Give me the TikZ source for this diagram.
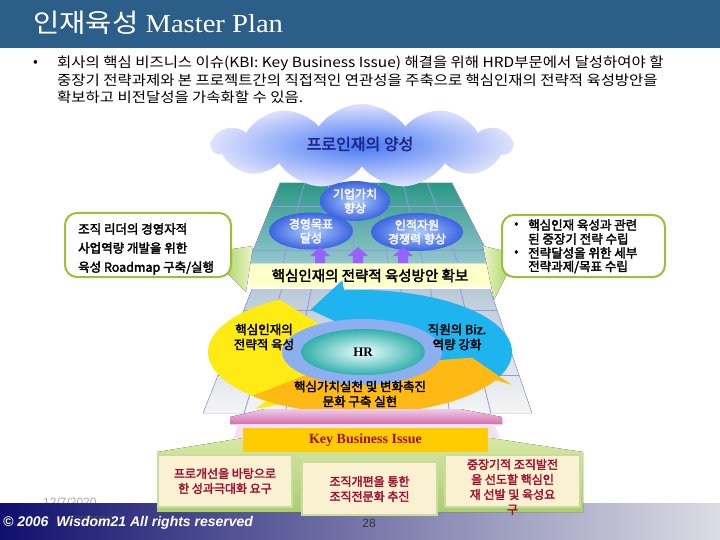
\documentclass[tikz,border=0pt]{standalone}
\usepackage{fontspec}
\setmainfont{Liberation Serif}
\setsansfont{Liberation Sans}
\newfontfamily\kr{Noto Sans CJK KR}
\newfontfamily\krb[FakeBold=2.5]{Noto Sans CJK KR}
\usetikzlibrary{shapes.symbols,shapes.geometric}
\definecolor{titleblue}{RGB}{44,94,138}
\definecolor{cloudblue}{RGB}{70,120,245}
\definecolor{cloudedge}{RGB}{222,226,252}
\definecolor{cloudtext}{RGB}{30,40,130}
\definecolor{tealtop}{RGB}{38,150,132}
\definecolor{tealbot}{RGB}{150,200,205}
\definecolor{gridc}{RGB}{150,150,225}
\definecolor{ballin}{RGB}{175,205,255}
\definecolor{ballout}{RGB}{60,100,225}
\definecolor{purparr}{RGB}{150,100,250}
\definecolor{barYellow}{RGB}{255,255,200}
\definecolor{callgreen}{RGB}{155,190,60}
\definecolor{ptrA}{RGB}{175,215,110}
\definecolor{ptrB}{RGB}{235,245,200}
\definecolor{plateTop}{RGB}{185,200,215}
\definecolor{plateBot}{RGB}{245,245,245}
\definecolor{ringYellow}{RGB}{255,235,20}
\definecolor{ringCyan}{RGB}{30,180,240}
\definecolor{ringOrange}{RGB}{255,185,20}
\definecolor{hrring}{RGB}{140,175,240}
\definecolor{hrin}{RGB}{235,255,255}
\definecolor{hrout}{RGB}{50,175,170}
\definecolor{pinkTop}{RGB}{235,205,235}
\definecolor{pinkBot}{RGB}{215,110,170}
\definecolor{keyGold}{RGB}{255,204,0}
\definecolor{greenTop}{RGB}{215,232,165}
\definecolor{greenBot}{RGB}{170,205,110}
\definecolor{boxfill}{RGB}{250,240,210}
\definecolor{boxline}{RGB}{200,220,160}
\definecolor{darkred}{RGB}{160,16,48}
\definecolor{footL}{RGB}{16,16,110}
\definecolor{footR}{RGB}{220,220,228}
\newcommand{\ringarr}[4]{\fill[#1] (#2:152 and 62) arc[start angle=#2, end angle=#3, x radius=152, y radius=62] -- (#3:170 and 72) -- (#4:113 and 47) -- (#3:58 and 22) -- (#3:75 and 32) arc[start angle=#3, end angle=#2, x radius=75, y radius=32] -- cycle;}
\begin{document}
\begin{tikzpicture}[x=1pt,y=-1pt,every node/.style={inner sep=0pt},
  body/.style={font=\kr\fontsize{14}{16}\selectfont, anchor=west},
  ball/.style={ellipse, inner color=ballin, outer color=ballout, text=white, font=\krb\fontsize{12}{14}\selectfont, align=center},
  callbox/.style={draw=callgreen, line width=2, rounded corners=12, fill=white},
  calltext/.style={font=\krb\fontsize{12.5}{19}\selectfont, anchor=west, align=left},
  rtext/.style={font=\krb\fontsize{12.5}{14}\selectfont, anchor=west},
  ringtext/.style={font=\krb\fontsize{12.5}{15}\selectfont, align=center},
  kbox/.style={draw=boxline, line width=2, fill=boxfill},
  ktext/.style={font=\krb\fontsize{12}{15}\selectfont, text=darkred, align=center}]
\useasboundingbox (0,0) rectangle (720,540);
% title
\fill[titleblue] (0,0) rectangle (720,48);
\node[anchor=west,text=white,font=\fontsize{26}{30}\selectfont] (title) at (33,23) {\scalebox{1.1}[1]{{\kr 인재육성} Master Plan}};
% bullet text
\node[body] (bul) at (33,63) {•};
\node[body] (l1) at (57,63) {\scalebox{1.105}[1]{회사의 핵심 비즈니스 이슈(KBI: Key Business Issue) 해결을 위해 HRD부문에서 달성하여야 할}};
\node[body] (l2) at (57,80) {\scalebox{1.105}[1]{중장기 전략과제와 본 프로젝트간의 직접적인 연관성을 주축으로 핵심인재의 전략적 육성방안을}};
\node[body] (l3) at (57,97) {\scalebox{1.105}[1]{확보하고 비전달성을 가속화할 수 있음.}};
% upper teal panel
\begin{scope}
\path[clip] (280,183) -- (452,183) -- (493,263) -- (248,263) -- cycle;
\fill[top color=tealtop, bottom color=tealbot] (240,180) rectangle (500,265);
\foreach \i in {0,...,7} \draw[gridc, line width=0.8] (280+\i*172/7,183) -- (248+\i*245/7,263);
\foreach \y in {206,229,250} \draw[gridc, line width=0.8] (240,\y) -- (500,\y);
\end{scope}
% cloud
\node[cloud, cloud puffs=11, cloud puff arc=110, aspect=3.6, minimum width=300, minimum height=84, inner color=cloudblue, outer color=cloudedge] (cloud) at (362,146) {};
\node[font=\krb\fontsize{16}{18}\selectfont, text=cloudtext] (cloudt) at (360,144) {프로인재의 양성};
% ellipses
\node[ball, minimum width=70, minimum height=40] (e1) at (355,201) {기업가치\\향상};
\node[ball, minimum width=84, minimum height=37] (e2) at (311,231) {경영목표\\달성};
\node[ball, minimum width=92, minimum height=38] (e3) at (417,232) {인적자원\\경쟁력 향상};
% purple arrows
\foreach \x in {320,358,403}
  \fill[purparr] (\x-5,263) -- (\x-5,256) -- (\x-10,256) -- (\x,247) -- (\x+10,256) -- (\x+5,256) -- (\x+5,263) -- cycle;
% yellow bar
\node[fill=barYellow, minimum width=240, minimum height=23, font=\krb\fontsize{14.5}{16}\selectfont] (bar) at (370,275.5) {핵심인재의 전략적 육성방안 확보};
% left callout
\fill[left color=ptrA, right color=ptrB] (226,250) -- (253,246) -- (246,292) -- (226,272) -- cycle;
\node[callbox, minimum width=166, minimum height=64] (lbox) at (148,245) {};
\node[calltext] (lt) at (78,249) {조직 리더의 경영자적\\사업역량 개발을 위한\\육성 Roadmap 구축/실행};
% right callout
\fill[left color=ptrB, right color=ptrA] (508,252) -- (483,246) -- (494,300) -- (508,272) -- cycle;
\node[callbox, minimum width=163, minimum height=62] (rbox) at (583.5,246) {};
\node[rtext] (rb1) at (514,225) {•};
\node[rtext] (r1) at (528,225) {핵심인재 육성과 관련};
\node[rtext] (r2) at (528,239) {된 중장기 전략 수립};
\node[rtext] (rb2) at (514,253) {•};
\node[rtext] (r3) at (528,253) {전략달성을 위한 세부};
\node[rtext] (r4) at (528,267) {전략과제/목표 수립};
% lower plate
\begin{scope}
\path[clip] (252,289) -- (490,289) -- (532,413) -- (203,413) -- cycle;
\fill[top color=plateTop, bottom color=plateBot] (200,285) rectangle (535,415);
\foreach \i in {0,...,8} \draw[gridc, line width=0.8] (252+\i*238/8,289) -- (203+\i*329/8,413);
\foreach \y in {310,340,375} \draw[gridc, line width=0.8] (200,\y) -- (535,\y);
\end{scope}
% ring arrows
\begin{scope}[shift={(360,352)}, yscale=-1]
\ringarr{ringYellow}{122}{232}{252}
\ringarr{ringCyan}{-28}{96}{116}
\ringarr{ringOrange}{225}{333}{353}
\end{scope}
\fill[hrring] (362,352) ellipse [x radius=80, y radius=33];
\node[ellipse, inner color=hrin, outer color=hrout, minimum width=124, minimum height=46, font=\bfseries\fontsize{13}{15}\selectfont] (hr) at (363,352) {HR};
\node[ringtext] (t1) at (264,337) {핵심인재의\\전략적 육성};
\node[ringtext] (t2) at (457,337) {직원의 Biz.\\역량 강화};
\node[ringtext] (t3) at (360,394) {핵심가치실천 및 변화촉진\\문화 구축 실현};
% footer
\node[font=\sffamily\fontsize{12}{14}\selectfont, text=gray!70, anchor=west] (d1) at (43,502) {12/7/2020};
\fill[left color=footL, right color=footR] (0,503) rectangle (720,540);
\node[font=\sffamily\fontsize{12}{14}\selectfont, text=gray!60!black, anchor=west] (d2) at (60,520) {12/7/2020};
\node[font=\sffamily\bfseries\itshape\fontsize{14}{16}\selectfont, text=white, anchor=west] (copy) at (3,523) {© 2006\ \ Wisdom21 All rights reserved};
\node[font=\sffamily\fontsize{12}{14}\selectfont, text=black!80] (pg) at (369,523) {28};
% lower stack
\fill[top color=pinkTop, bottom color=pinkBot] (265,409) -- (460,409) -- (502,417) -- (502,424) -- (230,424) -- (230,417) -- cycle;
\fill[pinkTop!60!white] (238,424) -- (494,424) -- (500,438) -- (234,438) -- cycle;
\fill[top color=greenTop, bottom color=greenBot] (157,452) -- (243,438) -- (490,438) -- (583,452) -- (583,512) -- (157,512) -- cycle;
\node[fill=keyGold, minimum width=245, minimum height=24, font=\bfseries\fontsize{14}{16}\selectfont, text=darkred] (kbi) at (365.5,440) {Key Business Issue};
\node[kbox, minimum width=134, minimum height=52] (b1) at (225,481) {};
\node[kbox, minimum width=135, minimum height=53] (b2) at (369.5,488.5) {};
\node[kbox, minimum width=135, minimum height=52] (b3) at (512.5,481) {};
\node[ktext] (bt1) at (225,481) {프로개선을 바탕으로\\한 성과극대화 요구};
\node[ktext] (bt2) at (369.5,489) {조직개편을 통한\\조직전문화 추진};
\node[ktext] (bt3) at (512.5,487) {중장기적 조직발전\\을 선도할 핵심인\\재 선발 및 육성요\\구};
\end{tikzpicture}
\end{document}
